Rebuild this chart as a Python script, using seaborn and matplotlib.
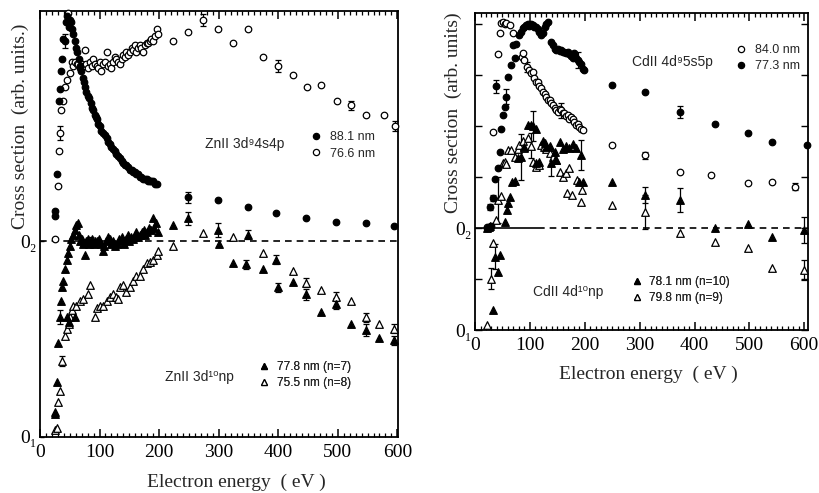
import numpy as np
import pandas as pd
import matplotlib
matplotlib.use("Agg")
import matplotlib.pyplot as plt
from matplotlib.lines import Line2D
from matplotlib.ticker import MultipleLocator, FixedLocator, FixedFormatter
import seaborn as sns

sns.set_theme(style="ticks")
SERIF = ["Liberation Serif", "DejaVu Serif"]
SANS = ["Liberation Sans", "DejaVu Sans"]
plt.rcParams["font.family"] = SERIF
plt.rcParams["axes.edgecolor"] = "black"
plt.rcParams["axes.linewidth"] = 1.3
plt.rcParams["xtick.color"] = "black"
plt.rcParams["ytick.color"] = "black"

# ---------------- ZnII (left panel) ----------------
# lower block: 3d10np lines, zero at 0; upper block: 3d9 4s4p lines, zero at zn_off
zn_off = 0.852

zn881_e = [25, 26, 28, 32, 33, 35, 37, 39, 42, 44, 46, 48, 50, 52, 54, 56, 59, 61, 63, 65,
           67, 69, 72, 74, 76, 78, 80, 83, 85, 87, 89, 92, 94, 96, 98, 101, 103, 106, 109, 112,
           115, 117, 120, 123, 126, 128, 131, 134, 137, 140, 142, 145, 148, 151, 154, 156, 159, 162, 165, 168,
           170, 173, 176, 179, 182, 184, 187, 190, 193, 196,
           249, 299, 349, 397, 447, 497, 547, 595]
zn881_v = [0.11, 0.13, 0.29, 0.61, 0.66, 0.74, 0.79, 0.88, 0.87, 0.95, 0.98, 0.93, 0.96, 0.95, 0.92, 0.90, 0.87, 0.84, 0.82, 0.79,
           0.76, 0.74, 0.71, 0.69, 0.67, 0.65, 0.63, 0.62, 0.60, 0.58, 0.57, 0.55, 0.54, 0.53, 0.51, 0.50, 0.48, 0.47, 0.46, 0.45,
           0.43, 0.42, 0.41, 0.40, 0.39, 0.38, 0.37, 0.36, 0.35, 0.34, 0.33, 0.33, 0.32, 0.31, 0.31, 0.30, 0.30, 0.29, 0.29, 0.28,
           0.28, 0.27, 0.27, 0.27, 0.26, 0.26, 0.26, 0.26, 0.25, 0.25,
           0.19, 0.18, 0.15, 0.12, 0.10, 0.084, 0.077, 0.065]
zn881_err = {42: 0.03, 249: 0.025}

zn766_e = [25, 30, 32, 34, 36, 38, 42, 45, 47, 50, 53, 56, 59, 62, 64, 67, 70, 73, 75, 78,
           81, 84, 87, 89, 92, 95, 98, 101, 103, 106, 109, 112, 115, 118, 120, 123, 126, 128, 131, 134,
           137, 140, 143, 145, 148, 151, 154, 156, 159, 162, 165, 168, 170, 173, 176, 179, 182, 184, 187, 190,
           193, 196, 198,
           223, 249, 274, 299, 324, 349, 374, 399, 425, 448, 472, 498, 522, 547, 578, 596]
zn766_v = [0.01, 0.24, 0.39, 0.47, 0.57, 0.61, 0.67, 0.70, 0.99, 0.73, 0.78, 0.76, 0.78, 0.77, 0.77, 0.75, 0.77, 0.76, 0.83, 0.77,
           0.75, 0.78, 0.76, 0.79, 0.77, 0.76, 0.75, 0.78, 0.74, 0.77, 0.78, 0.82, 0.76, 0.77, 0.75, 0.78, 0.80, 0.79, 0.78, 0.77,
           0.79, 0.81, 0.80, 0.82, 0.81, 0.82, 0.84, 0.83, 0.85, 0.82, 0.84, 0.85, 0.84, 0.82, 0.85, 0.86, 0.86, 0.87, 0.88, 0.87,
           0.89, 0.92, 0.90,
           0.87, 0.91, 0.96, 0.92, 0.86, 0.92, 0.80, 0.76, 0.72, 0.67, 0.68, 0.61, 0.59, 0.55, 0.55, 0.50]
zn766_err = {34: 0.03, 274: 0.025, 399: 0.025, 522: 0.02, 596: 0.02}

zn778_e = [25, 26, 28, 31, 34, 35, 37, 39, 42, 45, 46, 47, 48, 50, 52, 55, 58, 59, 61, 64,
           66, 68, 70, 72, 75, 77, 80, 82, 85, 88, 90, 93, 96, 99, 102, 105, 108, 111, 114, 117,
           120, 123, 126, 129, 132, 135, 138, 141, 144, 147, 150, 153, 156, 159, 162, 165, 168, 171, 174, 177,
           180, 183, 186, 189, 192, 195, 198,
           223, 249, 299, 300, 324, 346, 349, 374, 397, 400, 425, 447, 472, 497, 522, 547, 570, 595]
zn778_v = [0.10, 0.11, 0.24, 0.41, 0.52, 0.59, 0.65, 0.68, 0.73, 0.77, 0.52, 0.80, 0.50, 0.83, 0.86, 0.88, 0.90, 0.52, 0.92, 0.93,
           0.88, 0.85, 0.86, 0.84, 0.79, 0.85, 0.86, 0.84, 0.85, 0.86, 0.84, 0.85, 0.85, 0.86, 0.84, 0.81, 0.83, 0.85, 0.87, 0.86,
           0.84, 0.85, 0.83, 0.84, 0.86, 0.85, 0.87, 0.84, 0.86, 0.88, 0.85, 0.87, 0.86, 0.88, 0.89, 0.87, 0.88, 0.89, 0.90, 0.88,
           0.89, 0.91, 0.90, 0.95, 0.91, 0.93, 0.89,
           0.92, 0.95, 0.90, 0.84, 0.755, 0.75, 0.88, 0.73, 0.77, 0.65, 0.675, 0.62, 0.545, 0.58, 0.49, 0.465, 0.43, 0.42]
zn778_err = {34: 0.03, 85: 0.02, 249: 0.03, 299: 0.03, 346: 0.02, 349: 0.02, 397: 0.02, 400: 0.02,
             447: 0.025, 497: 0.025, 547: 0.025, 595: 0.02}

zn755_e = [25, 28, 31, 33, 37, 42, 45, 48, 50, 53, 56, 61, 67, 73, 81, 84, 92, 95, 101, 106,
           112, 117, 123, 128, 131, 134, 140, 145, 151, 156, 162, 168, 173, 179, 184, 190, 196, 198,
           223, 274, 324, 374, 425, 447, 472, 497, 522, 547, 570, 595]
zn755_v = [0.03, 0.04, 0.15, 0.20, 0.33, 0.44, 0.47, 0.49, 0.52, 0.55, 0.57, 0.57, 0.59, 0.60, 0.62, 0.66, 0.52, 0.56, 0.57, 0.57,
           0.59, 0.61, 0.62, 0.61, 0.60, 0.65, 0.66, 0.63, 0.65, 0.68, 0.70, 0.70, 0.73, 0.755, 0.76, 0.77, 0.79, 0.81,
           0.83, 0.885, 0.87, 0.80, 0.72, 0.67, 0.64, 0.61, 0.59, 0.52, 0.49, 0.47]
zn755_err = {37: 0.02, 447: 0.02, 497: 0.02, 547: 0.02, 595: 0.02}

# ---------------- CdII (right panel) ----------------
# tick spacing = 1 unit; lower block zero at 0, upper block zero at cd_off
cd_off = 2.0

cd840_e = [22, 33, 42, 45, 48, 51, 54, 57, 63, 69, 85, 87, 90, 94, 99, 102, 105, 108, 111, 114,
           117, 120, 123, 127, 130, 133, 136, 139, 142, 145, 148, 151, 154, 157, 160, 163, 166, 169, 172, 175,
           178, 181, 184, 187, 190, 193, 196,
           250, 310, 373, 430, 497, 542, 584]
cd840_v = [0.02, 1.89, 3.42, 3.82, 4.02, 4.05, 4.00, 4.02, 3.98, 3.82, 3.35, 3.43, 3.30, 3.16, 3.10, 3.05, 3.07, 2.95, 2.87, 2.86,
           2.78, 2.74, 2.67, 2.64, 2.58, 2.52, 2.51, 2.45, 2.41, 2.35, 2.31, 2.28, 2.33, 2.31, 2.26, 2.25, 2.20, 2.22, 2.15, 2.18,
           2.15, 2.08, 2.02, 2.05, 1.99, 1.95, 1.92,
           1.63, 1.43, 1.10, 1.04, 0.88, 0.91, 0.81]
cd840_err = {94: 0.1, 157: 0.15, 310: 0.07, 584: 0.07}

cd773_e = [22, 25, 27, 30, 33, 36, 38, 42, 45, 47, 51, 54, 57, 60, 66, 69, 72, 75, 81, 84,
           87, 90, 93, 96, 99, 102, 105, 108, 111, 114, 117, 120, 123, 127, 130, 133, 138, 142, 145, 148,
           151, 154, 157, 160, 163, 166, 169, 172, 175, 178, 181, 184, 187, 190, 193, 196, 199,
           250, 310, 373, 437, 497, 542, 605]
cd773_v = [0.0, 0.02, 0.41, 0.05, 0.59, 0.97, 2.78, 1.17, 1.50, 1.95, 2.22, 2.38, 2.58, 2.97, 3.20, 3.59, 3.33, 3.62, 3.78, 3.85,
           3.92, 3.95, 3.98, 4.00, 3.97, 4.00, 3.98, 3.95, 3.95, 3.90, 3.85, 3.78, 3.82, 3.95, 4.00, 4.05, 3.65, 3.59, 3.52, 3.49,
           3.52, 3.47, 3.50, 3.46, 3.45, 3.43, 3.45, 3.42, 3.38, 3.33, 3.43, 3.33, 3.30, 3.26, 3.22, 3.13, 3.10,
           2.80, 2.67, 2.28, 2.05, 1.86, 1.69, 1.63]
cd773_err = {27: 0.06, 33: 0.06, 38: 0.12, 57: 0.15, 187: 0.15, 373: 0.12}

cd781_e = [22, 25, 28, 33, 36, 42, 45, 54, 58, 60, 63, 68, 72, 78, 84, 90, 96, 102, 106, 111,
           112, 117, 123, 127, 130, 136, 139, 145, 148, 154, 160, 166, 172, 178, 184, 190, 193, 196,
           250, 310, 373, 437, 497, 542, 600]
cd781_v = [2.00, 2.02, 2.04, 0.39, 1.44, 1.14, 1.47, 2.12, 2.35, 2.49, 2.61, 2.90, 2.92, 3.38, 3.40, 3.60, 4.02, 4.02, 4.00, 3.95,
           3.27, 3.30, 3.70, 3.66, 3.60, 3.62, 3.27, 3.50, 3.33, 3.69, 3.55, 3.62, 3.58, 3.65, 3.58, 2.90, 3.43, 2.90,
           2.90, 2.65, 2.55, 2.01, 2.08, 1.83, 1.96]
cd781_err = {36: 0.25, 84: 0.45, 106: 0.3, 139: 0.25, 193: 0.3, 310: 0.15, 373: 0.23, 600: 0.25}

cd798_e = [21, 30, 33, 39, 42, 48, 51, 54, 57, 60, 66, 72, 78, 81, 87, 90, 96, 102, 106, 112,
           116, 121, 126, 130, 136, 142, 145, 148, 155, 160, 166, 168, 172, 177, 186, 193, 195,
           250, 310, 373, 437, 497, 542, 600]
cd798_v = [0.10, 1.01, 1.70, 2.16, 2.55, 2.62, 3.27, 3.29, 3.25, 3.53, 3.53, 3.40, 3.55, 3.63, 3.70, 3.58, 3.76, 3.62, 3.30, 3.20,
           3.23, 3.63, 3.60, 3.55, 3.48, 3.40, 3.33, 3.33, 3.10, 3.00, 3.08, 2.69, 3.18, 2.65, 2.94, 2.51, 2.75,
           2.45, 2.32, 1.90, 1.73, 1.60, 1.21, 1.18]
cd798_err = {30: 0.2, 42: 0.45, 102: 0.25, 310: 0.33, 600: 0.2}


def draw(ax, e, v, offset, marker, filled, size, err):
    df = pd.DataFrame({"energy": e, "signal": np.asarray(v, float) + offset})
    sns.scatterplot(data=df, x="energy", y="signal", ax=ax, marker=marker, s=size,
                    color="black" if filled else "white", edgecolor="black",
                    linewidth=0.9, zorder=4, clip_on=False, legend=False)
    if err:
        ek = list(err.keys())
        ev = [v[e.index(k)] + offset for k in ek]
        ax.errorbar(ek, ev, yerr=list(err.values()), fmt="none", ecolor="black",
                    elinewidth=0.9, capsize=2.2, capthick=0.9, zorder=3, clip_on=False)


def frame(ax, xmax):
    ax.set_xlim(0, xmax)
    ax.xaxis.set_major_locator(MultipleLocator(100))
    ax.xaxis.set_minor_locator(MultipleLocator(10))
    ax.tick_params(axis="x", which="major", direction="in", length=6, width=1.1,
                   top=True, bottom=True, labelsize=14, pad=5)
    ax.tick_params(axis="x", which="minor", direction="in", length=3, width=0.9,
                   top=True, bottom=True)
    for sp in ax.spines.values():
        sp.set_visible(True)
        sp.set_linewidth(1.3)
        sp.set_color("black")
    ax.set_xlabel("Electron energy  ( eV )", fontsize=14)


def key(marker, filled, ms):
    return Line2D([], [], ls="none", marker=marker, markersize=ms,
                  markerfacecolor="black" if filled else "white",
                  markeredgecolor="black", markeredgewidth=0.9)


def add_legend(ax, handles, labels, x, y, size):
    leg = ax.legend(handles, labels, loc="upper left", bbox_to_anchor=(x, y),
                    frameon=False, handlelength=0.6, handletextpad=0.8,
                    borderpad=0, borderaxespad=0, labelspacing=0.35,
                    prop={"family": SANS, "size": size})
    ax.add_artist(leg)


fig = plt.figure(figsize=(8.19, 4.93), dpi=100)

# ---- ZnII ----
ax1 = fig.add_axes([0.0488, 0.1136, 0.4371, 0.8641])
draw(ax1, zn755_e, zn755_v, 0.0, "^", False, 30, zn755_err)
draw(ax1, zn778_e, zn778_v, 0.0, "^", True, 30, zn778_err)
draw(ax1, zn766_e, zn766_v, zn_off, "o", False, 22, zn766_err)
draw(ax1, zn881_e, zn881_v, zn_off, "o", True, 22, zn881_err)
ax1.axhline(zn_off, ls=(0, (4, 3)), color="black", lw=1.2, zorder=2)
frame(ax1, 601)
ax1.set_ylim(0, 1.852)
ax1.yaxis.set_major_locator(FixedLocator([0, zn_off]))
ax1.yaxis.set_major_formatter(FixedFormatter(["0\u2081", "0\u2082"]))
ax1.tick_params(axis="y", direction="in", length=3, width=1.0, labelsize=14,
                left=True, right=False, pad=2)
ax1.set_ylabel("Cross section  (arb. units.)", fontsize=14)
ax1.yaxis.set_label_coords(-0.03, 0.73)
ax1.xaxis.set_label_coords(0.55, -0.087)
ax1.text(0.46, 0.688, "ZnII 3d\u20794s4p", transform=ax1.transAxes, family=SANS,
         fontsize=10, va="center", ha="left")
add_legend(ax1, [key("o", True, 4.5), key("o", False, 4.5)], ["88.1 nm", "76.6 nm"],
           0.760, 0.718, 9)
ax1.text(0.349, 0.141, "ZnII 3d\u00b9\u2070np", transform=ax1.transAxes, family=SANS,
         fontsize=10, va="center", ha="left")
add_legend(ax1, [key("^", True, 5), key("^", False, 5)], ["77.8 nm (n=7)", "75.5 nm (n=8)"],
           0.617, 0.178, 8.5)

# ---- CdII ----
ax2 = fig.add_axes([0.580, 0.3306, 0.406, 0.643])
draw(ax2, cd798_e, cd798_v, 0.0, "^", False, 30, cd798_err)
draw(ax2, cd781_e, cd781_v, 0.0, "^", True, 30, cd781_err)
draw(ax2, cd840_e, cd840_v, cd_off, "o", False, 22, cd840_err)
draw(ax2, cd773_e, cd773_v, cd_off, "o", True, 22, cd773_err)
ax2.hlines(cd_off, 0, 115, colors="black", lw=1.2, zorder=2)
ax2.hlines(cd_off, 115, 606, colors="black", lw=1.2, linestyles=(0, (4, 3)), zorder=2)
frame(ax2, 606)
ax2.set_ylim(0, 6.22)
ax2.yaxis.set_major_locator(FixedLocator([0, 1, 2, 3, 4, 5, 6]))
ax2.yaxis.set_major_formatter(FixedFormatter(["0\u2081", "", "0\u2082", "", "", "", ""]))
ax2.tick_params(axis="y", direction="in", length=5, width=1.0, labelsize=14,
                left=True, right=True, pad=2)
ax2.set_ylabel("Cross section  (arb. units)", fontsize=14)
ax2.yaxis.set_label_coords(-0.04, 0.685)
ax2.xaxis.set_label_coords(0.52, -0.114)
ax2.text(0.472, 0.845, "CdII 4d\u20795s5p", transform=ax2.transAxes, family=SANS,
         fontsize=10, va="center", ha="left")
add_legend(ax2, [key("o", False, 4.5), key("o", True, 4.5)], ["84.0 nm", "77.3 nm"],
           0.788, 0.902, 9)
ax2.text(0.173, 0.12, "CdII 4d\u00b9\u2070np", transform=ax2.transAxes, family=SANS,
         fontsize=10, va="center", ha="left")
add_legend(ax2, [key("^", True, 5), key("^", False, 5)], ["78.1 nm (n=10)", "79.8 nm (n=9)"],
           0.475, 0.170, 8.5)

fig.savefig("out.png", dpi=100)
